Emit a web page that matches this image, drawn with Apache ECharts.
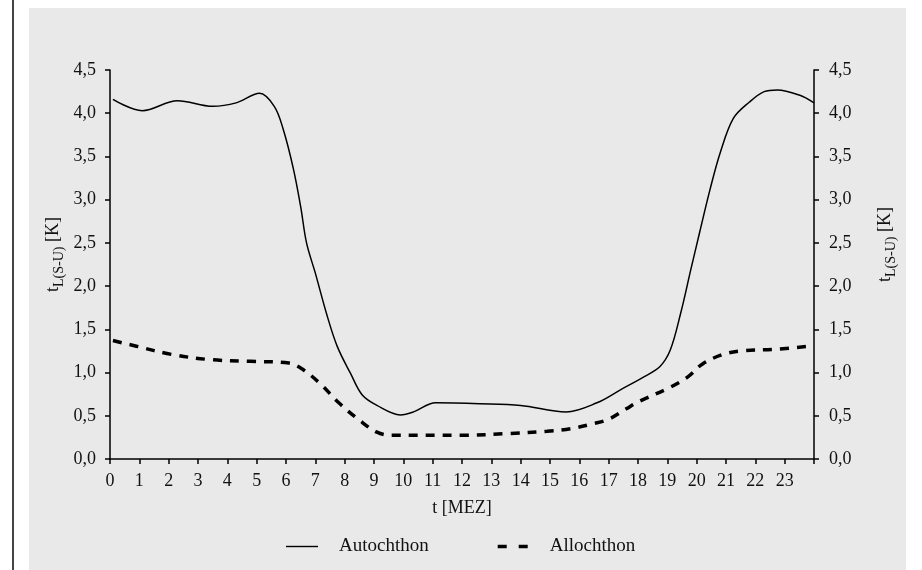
<!DOCTYPE html>
<html>
<head>
<meta charset="utf-8">
<script src="https://cdn.jsdelivr.net/npm/echarts@6/dist/echarts.min.js"></script>
<style>html,body{margin:0;padding:0;background:#fff;}#c{width:922px;height:570px;}</style>
</head>
<body>
<div id="c"></div>
<script>
// Autochthon series (hour, value)
const autoT = [0.1,1.1,2.3,3.5,4.3,5.1,5.6,5.9,6.25,6.5,6.7,7.0,7.4,7.75,8.2,8.6,9.1,9.9,10.35,11.1,12.6,14.0,15.55,16.6,17.4,18.2,18.75,19.1,19.45,19.8,20.1,20.45,20.8,21.25,21.8,22.3,22.75,23.5,24];
const autoV = [4.16,4.03,4.145,4.08,4.12,4.23,4.08,3.82,3.36,2.92,2.5,2.15,1.66,1.3,0.99,0.74,0.62,0.51,0.545,0.65,0.64,0.62,0.545,0.65,0.80,0.95,1.07,1.26,1.68,2.19,2.62,3.11,3.54,3.94,4.13,4.25,4.27,4.21,4.12];
// Allochthon series (hour, value)
const alloT = [0.1,0.9,2.1,3.4,4.8,6.1,6.6,7.2,7.8,8.5,9.1,9.6,12,13.6,14.9,15.7,16.5,17.0,17.6,18.0,19.1,19.7,20.2,20.9,21.5,22.7,24];
const alloV = [1.37,1.305,1.21,1.15,1.13,1.11,1.03,0.86,0.65,0.45,0.31,0.275,0.275,0.295,0.32,0.35,0.41,0.46,0.58,0.66,0.83,0.95,1.10,1.21,1.25,1.27,1.31];
const seriesNames = ['Autochthon','Allochthon'];
const xTickLabels = ['0','1','2','3','4','5','6','7','8','9','10','11','12','13','14','15','16','17','18','19','20','21','22','23'];

const FONT = 'Liberation Serif';
const chart = echarts.init(document.getElementById('c'), null, {renderer:'canvas'});
const yName = '{a|t}{b|L(S-U)}{a| [K]}';
function yNameStyle(shift){
  return {
    color:'#111', fontFamily: FONT, fontSize:18, padding:[0,0,0,shift],
    rich:{
      a:{fontFamily:FONT, fontSize:18, color:'#111', lineHeight:26, verticalAlign:'middle'},
      b:{fontFamily:FONT, fontSize:14, color:'#111', lineHeight:26, verticalAlign:'bottom'}
    }
  };
}
const yFmt = v => v.toFixed(1).replace('.', ',');
const axisLine = {show:true, lineStyle:{color:'#000', width:1.5}};
const axisTick = {show:true, length:5, inside:false, lineStyle:{color:'#000', width:1.5}};
const yLabel = {fontFamily:FONT, fontSize:18, color:'#111', formatter:yFmt, margin:14};

const solidIcon = 'path://M0,0M32,14M0,6.3H32V7.7H0Z';
const dashIcon = 'path://M0,0M32,14M1,5.25H10V8.75H1Z M22,5.25H31V8.75H22Z';

chart.setOption({
  backgroundColor:'#ffffff',
  animation:false,
  graphic:[
    {type:'rect', shape:{x:29, y:8, width:877, height:570}, style:{fill:'#e9e9e9'}, z:-10, silent:true},
    {type:'line', shape:{x1:13, y1:0, x2:13, y2:570}, style:{stroke:'#444', lineWidth:2}, z:-5, silent:true}
  ],
  grid:{left:110, right:108, top:70, bottom:111, containLabel:false},
  legend:{
    left:281, top:532, itemWidth:32, itemHeight:14, itemGap:68,
    textStyle:{fontFamily:FONT, fontSize:19, color:'#111', padding:[0,0,0,16]},
    data:[{name:seriesNames[0], icon:solidIcon}, {name:seriesNames[1], icon:dashIcon}]
  },
  xAxis:{
    type:'value', min:0, max:24, interval:1,
    name:'t [MEZ]', nameLocation:'middle', nameGap:40,
    nameTextStyle:{fontFamily:FONT, fontSize:18, color:'#111'},
    axisLine, axisTick,
    axisLabel:{fontFamily:FONT, fontSize:18, color:'#111', margin:13,
      formatter:v => (v < xTickLabels.length ? xTickLabels[v] : '')},
    splitLine:{show:false}
  },
  yAxis:[
    {type:'value', position:'left', min:0, max:4.5, interval:0.5,
     name:yName, nameLocation:'middle', nameGap:44, nameRotate:90, nameMoveOverlap:false, nameTextStyle:yNameStyle(20),
     axisLine, axisTick, axisLabel:yLabel, splitLine:{show:false}},
    {type:'value', position:'right', min:0, max:4.5, interval:0.5,
     name:yName, nameLocation:'middle', nameGap:58, nameRotate:90, nameMoveOverlap:false, nameTextStyle:yNameStyle(40),
     axisLine, axisTick, axisLabel:Object.assign({}, yLabel, {margin:15}), splitLine:{show:false}}
  ],
  series:[
    {name:seriesNames[0], type:'line', smooth:0.35, symbol:'none', showSymbol:false,
     lineStyle:{color:'#000', width:1.5, type:'solid'}, itemStyle:{color:'#000'},
     data:autoT.map((t,i)=>[t, autoV[i]])},
    {name:seriesNames[1], type:'line', smooth:0.35, symbol:'none', showSymbol:false,
     lineStyle:{color:'#000', width:3.5, type:[9,8]}, itemStyle:{color:'#000'},
     data:alloT.map((t,i)=>[t, alloV[i]])}
  ]
});
</script>
</body>
</html>
